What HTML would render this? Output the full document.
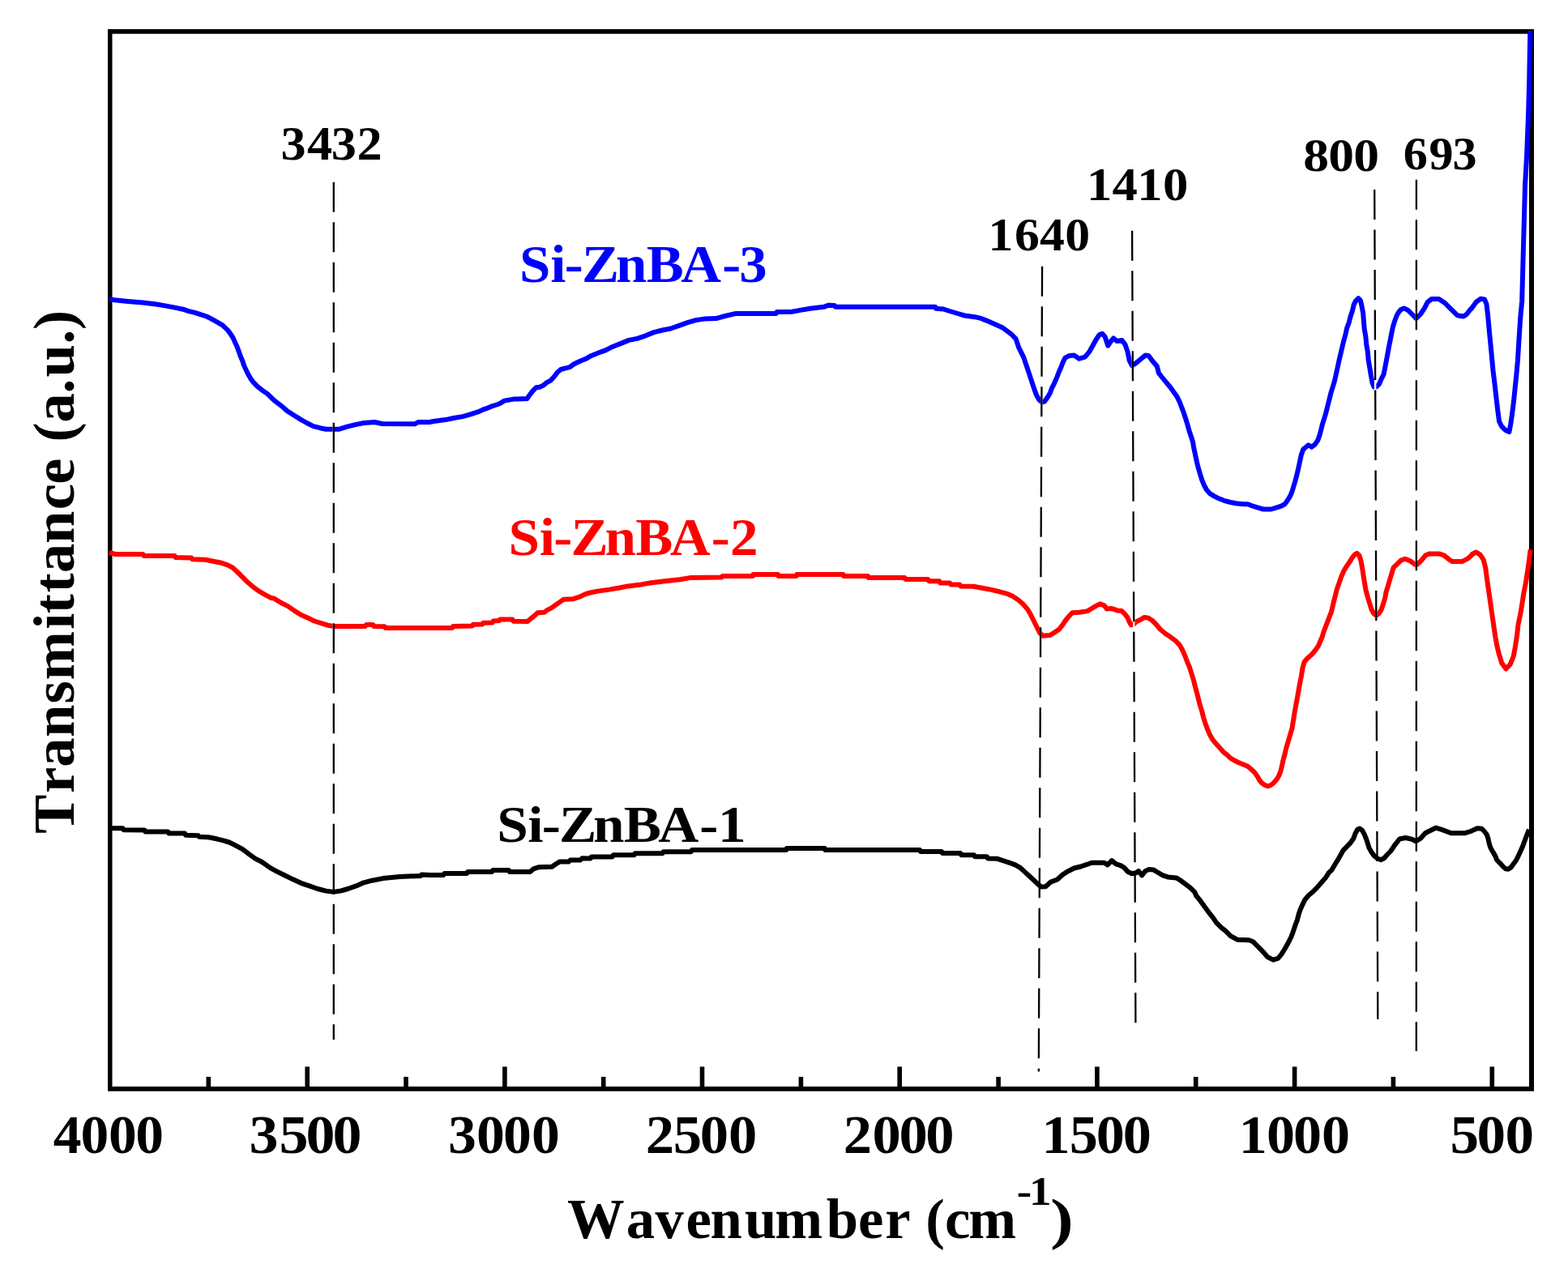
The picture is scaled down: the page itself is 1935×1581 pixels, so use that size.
<!DOCTYPE html>
<html><head><meta charset="utf-8"><title>FTIR spectra</title><style>
html,body{margin:0;padding:0;background:#fff;}
svg{display:block;}
text{font-family:"Liberation Serif","Times New Roman",serif;font-weight:bold;}
</style></head><body>
<svg xmlns="http://www.w3.org/2000/svg" width="1935" height="1581" viewBox="0 0 1935 1581">
<rect width="1935" height="1581" fill="#fff"/>
<path d="M133,36 H1893 V1346.7 H133 Z M138.5,41.7 V1341 H1887 V41.7 Z" fill="#000" fill-rule="evenodd"/>
<rect x="254.5" y="1329" width="5.6" height="13.0" fill="#000"/><rect x="376.4" y="1316.5" width="5.6" height="25.5" fill="#000"/><rect x="498.2" y="1329" width="5.6" height="13.0" fill="#000"/><rect x="620.1" y="1316.5" width="5.6" height="25.5" fill="#000"/><rect x="741.9" y="1329" width="5.6" height="13.0" fill="#000"/><rect x="863.7" y="1316.5" width="5.6" height="25.5" fill="#000"/><rect x="985.6" y="1329" width="5.6" height="13.0" fill="#000"/><rect x="1107.4" y="1316.5" width="5.6" height="25.5" fill="#000"/><rect x="1229.3" y="1329" width="5.6" height="13.0" fill="#000"/><rect x="1351.1" y="1316.5" width="5.6" height="25.5" fill="#000"/><rect x="1472.9" y="1329" width="5.6" height="13.0" fill="#000"/><rect x="1594.8" y="1316.5" width="5.6" height="25.5" fill="#000"/><rect x="1716.6" y="1329" width="5.6" height="13.0" fill="#000"/><rect x="1838.5" y="1316.5" width="5.6" height="25.5" fill="#000"/>
<path d="M135.0,681.9 L142.3,684.0 L176.4,684.0 L177.4,686.0 L215.7,686.0 L216.7,688.1 L236.3,688.6 L237.4,690.2 L252.9,690.7 L263.2,692.7 L273.5,694.8 L280.8,697.4 L287.0,700.5 L293.2,706.2 L299.4,712.4 L305.6,718.6 L312.8,724.8 L320.0,729.9 L327.3,734.1 L334.0,737.7 L338.3,738.6 L346.5,743.8 L354.8,747.9 L363.1,753.6 L371.3,758.8 L379.6,762.4 L387.9,766.5 L396.1,769.1 L404.4,771.7 L411.7,772.9 L450.9,772.9 L452.0,770.9 L460.2,770.9 L461.3,772.9 L474.7,773.2 L475.7,775.0 L531.2,774.9 L558.1,774.9 L559.1,772.9 L582.9,772.4 L583.9,770.8 L595.3,770.5 L596.3,768.7 L607.7,768.4 L608.7,766.4 L616.0,766.1 L617.0,764.6 L632.5,764.6 L633.5,766.7 L651.1,767.0 L654.2,764.1 L658.3,761.0 L663.5,756.3 L671.8,755.8 L674.9,753.2 L680.0,750.6 L685.2,747.0 L690.4,743.4 L695.5,739.8 L706.9,739.3 L715.2,736.7 L721.4,733.6 L727.2,731.7 L737.6,729.6 L752.0,727.6 L764.4,725.5 L774.8,723.4 L791.3,721.4 L803.7,719.3 L820.3,717.2 L838.9,715.2 L851.3,713.1 L890.5,712.6 L891.6,711.0 L921.2,711.0 L929.0,711.0 L929.5,709.0 L960.0,709.0 L960.5,711.0 L982.7,711.0 L983.2,709.0 L1040.6,709.0 L1041.1,711.0 L1071.1,711.0 L1071.6,713.1 L1116.5,713.0 L1117.4,715.1 L1145.3,715.1 L1146.3,717.2 L1159.3,717.2 L1160.2,719.5 L1172.3,719.5 L1173.3,721.4 L1184.4,721.4 L1185.3,723.4 L1201.2,723.7 L1213.3,726.0 L1223.5,727.9 L1232.8,730.2 L1242.1,732.6 L1249.5,735.8 L1256.0,740.0 L1262.6,745.6 L1268.1,752.1 L1271.9,758.6 L1275.6,766.0 L1279.3,773.5 L1283.0,780.9 L1286.7,784.7 L1295.5,784.1 L1300.7,781.0 L1306.9,776.8 L1311.0,771.7 L1315.1,765.5 L1319.3,760.3 L1323.4,756.2 L1331.7,755.7 L1336.8,755.1 L1342.0,754.1 L1347.2,751.0 L1352.4,747.9 L1357.5,745.3 L1362.7,747.4 L1365.8,751.5 L1371.0,751.0 L1375.1,752.0 L1379.2,753.6 L1384.4,754.1 L1388.5,758.2 L1391.6,762.4 L1393.7,767.5 L1395.8,771.2 L1398.9,770.6 L1402.0,767.5 L1408.2,764.4 L1412.3,761.9 L1416.4,762.4 L1421.6,765.5 L1426.8,770.6 L1431.9,776.8 L1438.1,782.0 L1444.3,786.1 L1451.4,791.4 L1455.7,796.1 L1459.5,802.8 L1462.3,809.4 L1465.2,817.0 L1468.0,823.7 L1470.4,831.2 L1472.8,838.8 L1474.7,846.4 L1477.0,855.0 L1478.9,862.6 L1480.8,870.2 L1483.2,877.7 L1485.1,885.3 L1487.5,892.9 L1489.9,899.6 L1492.7,906.2 L1496.5,912.9 L1501.2,918.6 L1510.0,928.3 L1514.0,931.4 L1518.1,935.4 L1523.2,938.5 L1528.2,941.0 L1534.3,943.5 L1539.3,945.5 L1544.4,949.6 L1548.5,953.6 L1552.0,958.7 L1554.5,963.3 L1557.6,966.8 L1560.6,968.8 L1564.1,970.3 L1567.7,969.3 L1571.7,966.3 L1575.3,962.2 L1578.3,957.2 L1580.3,952.1 L1581.9,945.5 L1583.4,938.5 L1585.4,931.4 L1587.4,922.8 L1594.4,899.2 L1596.0,889.4 L1597.7,878.7 L1599.7,868.0 L1601.8,856.5 L1603.8,845.0 L1605.9,834.3 L1607.5,824.4 L1609.6,817.0 L1613.7,812.1 L1618.6,808.0 L1622.8,803.0 L1626.9,797.3 L1629.3,791.5 L1631.8,785.8 L1633.4,780.0 L1643.0,755.0 L1645.3,745.1 L1647.6,736.0 L1649.9,726.9 L1652.9,718.6 L1655.2,711.7 L1658.2,704.9 L1661.3,699.6 L1665.0,694.3 L1668.8,688.2 L1671.9,684.4 L1674.5,682.9 L1677.2,685.2 L1679.5,692.0 L1681.0,700.4 L1682.5,710.2 L1684.0,719.3 L1685.5,728.4 L1687.8,736.8 L1690.1,744.4 L1692.4,752.0 L1695.4,757.3 L1698.4,759.6 L1701.5,757.3 L1704.5,752.7 L1706.8,745.9 L1709.1,738.3 L1710.6,730.7 L1712.9,723.1 L1715.1,715.5 L1717.4,708.0 L1719.7,700.4 L1723.7,696.7 L1728.8,691.6 L1733.9,689.7 L1740.2,692.3 L1746.5,696.7 L1749.0,696.7 L1754.1,691.6 L1759.2,685.3 L1764.2,683.4 L1775.6,683.4 L1781.9,685.3 L1788.2,690.4 L1792.0,692.9 L1804.7,692.9 L1811.0,689.7 L1816.1,685.3 L1816.7,684.0 L1821.7,681.5 L1826.6,684.6 L1830.7,690.9 L1833.3,701.3 L1834.9,713.8 L1837.0,728.4 L1839.1,743.0 L1841.2,757.6 L1843.3,772.2 L1845.3,785.8 L1847.4,797.3 L1850.0,807.7 L1853.2,818.2 L1858.4,825.5 L1863.6,820.2 L1867.8,809.8 L1869.9,798.3 L1872.0,784.8 L1873.5,771.2 L1876.1,758.7 L1878.2,746.2 L1880.3,732.6 L1882.9,719.0 L1885.0,705.5 L1887.1,690.9 L1888.6,678.3" fill="none" stroke="#ff0000" stroke-width="6.0" stroke-linejoin="round" stroke-linecap="butt"/>
<path d="M135.0,368.8 L141.2,370.3 L157.8,371.9 L176.4,373.4 L192.9,375.5 L205.3,377.6 L215.7,379.6 L226.0,381.7 L232.2,383.8 L240.5,385.8 L246.7,387.9 L254.9,390.5 L260.1,393.1 L267.3,397.2 L274.6,401.3 L280.7,407.1 L284.5,412.1 L287.7,417.2 L290.2,422.9 L292.8,428.6 L294.7,433.6 L296.6,439.3 L299.1,445.0 L301.0,450.7 L303.5,456.4 L306.0,461.5 L309.2,467.1 L313.0,472.2 L318.1,477.3 L323.7,481.7 L330.1,486.1 L338.3,494.1 L346.5,500.3 L354.8,507.5 L363.1,512.7 L371.3,517.9 L378.6,522.0 L386.8,526.1 L395.1,528.2 L402.4,529.8 L417.9,529.8 L428.2,526.7 L438.5,524.1 L448.9,522.0 L462.3,521.0 L471.6,523.0 L511.9,523.3 L516.0,521.0 L530.0,521.0 L534.9,520.0 L549.8,518.1 L559.7,516.0 L570.9,514.1 L578.9,511.9 L585.1,509.8 L591.3,507.9 L595.7,505.7 L601.9,503.6 L606.8,501.4 L613.0,499.5 L617.4,497.7 L622.3,494.6 L633.7,492.6 L638.7,492.6 L650.5,491.9 L653.6,487.6 L657.3,482.6 L661.6,478.3 L666.0,477.7 L670.3,475.8 L674.7,472.1 L679.6,469.6 L684.0,464.7 L687.7,459.7 L692.0,456.0 L697.0,454.7 L703.2,453.2 L707.5,449.8 L712.5,447.3 L718.1,444.8 L723.0,442.9 L729.2,439.2 L735.4,436.7 L741.6,434.3 L747.8,432.1 L755.3,428.2 L765.7,424.1 L776.0,419.9 L786.3,417.9 L796.7,414.3 L807.0,410.1 L817.4,407.5 L827.7,405.5 L838.0,401.9 L848.4,398.2 L858.7,395.1 L869.0,393.6 L883.5,393.1 L894.9,390.0 L907.3,387.1 L945.0,387.1 L957.6,387.1 L958.6,385.0 L977.2,384.8 L987.5,382.9 L999.9,380.7 L1016.5,378.8 L1022.7,376.7 L1029.9,377.1 L1031.0,378.8 L1138.1,378.8 L1154.2,378.8 L1154.9,380.8 L1164.3,381.5 L1170.3,383.5 L1177.0,385.5 L1183.7,387.5 L1190.5,389.5 L1203.2,391.2 L1211.3,393.2 L1217.3,395.6 L1224.1,398.6 L1230.8,401.6 L1237.5,404.6 L1242.9,408.7 L1248.2,412.7 L1253.6,418.1 L1257.1,428.7 L1260.2,434.8 L1263.2,440.9 L1265.5,447.7 L1267.8,454.5 L1270.1,461.4 L1272.3,468.2 L1274.6,475.0 L1276.9,481.9 L1279.2,487.9 L1282.2,493.3 L1286.0,496.3 L1289.0,495.5 L1292.8,490.2 L1295.9,484.9 L1298.1,478.8 L1301.2,472.8 L1304.2,465.9 L1306.5,459.8 L1309.5,453.0 L1311.8,446.9 L1314.5,441.6 L1319.3,439.1 L1325.5,438.6 L1331.7,442.7 L1338.9,440.6 L1344.1,434.4 L1348.2,427.2 L1352.4,419.5 L1356.5,413.3 L1360.1,411.7 L1363.7,415.8 L1367.3,426.7 L1371.0,421.0 L1374.1,417.4 L1378.2,421.0 L1384.4,420.0 L1388.5,425.1 L1391.6,434.4 L1393.7,444.8 L1396.8,451.0 L1400.9,448.9 L1407.1,443.7 L1413.3,438.6 L1417.5,439.1 L1421.6,444.8 L1427.8,452.0 L1429.9,460.3 L1433.0,464.4 L1440.0,472.8 L1444.1,477.7 L1448.2,483.4 L1452.3,489.2 L1455.6,495.8 L1458.1,502.4 L1460.6,508.9 L1463.0,516.3 L1465.1,522.9 L1467.1,530.3 L1472.0,545.1 L1473.2,552.6 L1475.1,561.5 L1477.0,570.4 L1478.9,577.9 L1481.1,585.5 L1483.3,592.5 L1485.9,598.8 L1489.0,604.5 L1492.8,608.9 L1497.9,612.1 L1504.2,615.3 L1510.5,617.8 L1518.8,620.0 L1527.0,621.6 L1535.8,622.2 L1540.0,622.2 L1546.3,624.7 L1552.6,626.6 L1559.0,628.5 L1568.5,628.5 L1574.8,626.6 L1581.1,624.7 L1585.5,622.2 L1588.7,617.8 L1591.9,612.7 L1594.4,607.0 L1596.3,600.7 L1598.2,594.4 L1600.1,587.4 L1602.0,579.2 L1603.9,570.4 L1605.8,561.5 L1608.3,554.5 L1614.7,549.2 L1618.8,551.7 L1622.9,548.4 L1626.2,543.5 L1628.6,536.9 L1630.3,530.3 L1631.9,523.7 L1634.0,517.2 L1636.0,510.6 L1637.7,504.0 L1639.3,497.4 L1641.0,490.8 L1642.6,484.3 L1644.7,477.7 L1646.7,471.1 L1648.4,463.7 L1650.4,454.7 L1652.5,444.8 L1658.2,420.8 L1660.7,411.7 L1662.3,404.3 L1664.8,397.8 L1666.4,391.2 L1668.9,383.8 L1670.6,376.4 L1673.0,371.4 L1676.3,368.2 L1678.8,370.6 L1680.4,377.2 L1682.1,386.2 L1682.9,396.1 L1683.7,406.0 L1685.4,415.8 L1686.2,424.9 L1687.8,433.9 L1688.6,443.8 L1690.3,453.7 L1691.9,463.5 L1693.6,472.6 L1695.6,477.5 L1698.5,477.5 L1701.8,474.2 L1704.3,468.5 L1707.6,461.9 L1709.2,453.7 L1710.8,445.4 L1712.5,436.4 L1714.1,427.4 L1715.8,419.1 L1717.4,410.9 L1719.1,402.7 L1721.5,395.3 L1724.0,388.7 L1726.5,384.6 L1728.9,382.1 L1732.6,380.4 L1737.6,382.9 L1742.7,388.0 L1747.8,393.0 L1752.8,388.0 L1757.9,380.4 L1761.7,372.8 L1766.7,369.0 L1775.6,369.0 L1783.2,374.0 L1788.2,379.1 L1793.3,384.2 L1798.4,389.2 L1806.0,390.5 L1809.8,388.0 L1814.8,381.6 L1815.4,381.6 L1821.7,372.8 L1827.3,368.8 L1832.0,369.4 L1834.4,375.2 L1836.1,389.2 L1837.9,409.1 L1840.2,432.5 L1842.5,457.1 L1844.9,477.0 L1846.6,492.2 L1848.4,507.4 L1850.1,520.2 L1853.1,526.1 L1857.7,530.8 L1862.4,533.1 L1864.2,523.7 L1865.9,512.0 L1867.7,498.0 L1869.4,481.6 L1871.2,464.1 L1873.0,444.2 L1874.1,425.5 L1875.3,406.8 L1876.5,389.2 L1878.2,371.7 L1882.0,229.0 L1884.0,194.0 L1886.0,143.0 L1887.2,100.0 L1888.3,38.0" fill="none" stroke="#0000ff" stroke-width="6.0" stroke-linejoin="round" stroke-linecap="butt"/>
<g stroke="#fff" stroke-width="2.4" fill="none"><line x1="411.8" y1="224.8" x2="411.8" y2="1283.2"/><line x1="1286.1" y1="328.7" x2="1281.8" y2="1322.6"/><line x1="1397.1" y1="284.8" x2="1401.4" y2="1262.5"/><line x1="1696.2" y1="233.9" x2="1700.3" y2="1258.1"/><line x1="1747.9" y1="221.8" x2="1747.8" y2="1297.3"/></g>
<g stroke="#000" stroke-width="2.3" stroke-dasharray="37 12.5" fill="none"><line x1="411.8" y1="224.8" x2="411.8" y2="1283.2"/><line x1="1286.1" y1="328.7" x2="1281.8" y2="1322.6"/><line x1="1397.1" y1="284.8" x2="1401.4" y2="1262.5"/><line x1="1696.2" y1="233.9" x2="1700.3" y2="1258.1"/><line x1="1747.9" y1="221.8" x2="1747.8" y2="1297.3"/></g>
<path d="M136.1,1022.2 L151.6,1022.2 L152.6,1024.3 L178.4,1024.5 L179.5,1026.5 L207.4,1026.5 L208.4,1028.6 L228.1,1028.6 L229.1,1030.7 L244.6,1031.2 L245.6,1032.7 L257.0,1033.3 L267.3,1035.3 L275.6,1037.4 L282.8,1039.5 L290.1,1043.1 L299.4,1048.2 L307.6,1054.4 L314.9,1059.6 L323.1,1063.7 L330.4,1068.9 L336.2,1072.7 L340.3,1074.8 L350.7,1080.0 L361.0,1085.1 L371.3,1089.8 L381.7,1093.4 L392.0,1097.0 L402.4,1099.6 L411.7,1100.9 L421.0,1099.4 L429.2,1097.0 L439.6,1093.4 L448.9,1089.3 L459.2,1086.7 L472.6,1084.1 L493.3,1082.0 L519.1,1081.0 L520.2,1079.5 L531.2,1080.1 L547.2,1080.1 L548.3,1078.1 L576.2,1077.9 L577.2,1076.0 L607.2,1076.0 L608.2,1073.9 L627.8,1073.9 L628.9,1076.0 L654.2,1076.0 L658.3,1072.4 L664.5,1070.3 L681.1,1069.8 L686.2,1066.2 L690.4,1063.6 L701.7,1063.6 L703.8,1061.5 L716.2,1061.5 L718.3,1059.3 L726.2,1059.5 L728.8,1059.5 L729.8,1057.4 L755.7,1057.4 L756.7,1055.3 L782.5,1055.3 L783.6,1053.3 L817.7,1053.3 L818.7,1051.2 L852.8,1051.2 L853.9,1049.1 L921.2,1049.1 L970.3,1049.1 L970.8,1047.1 L1017.8,1047.1 L1018.4,1049.1 L1115.6,1049.0 L1135.1,1049.0 L1136.0,1051.0 L1162.1,1051.0 L1163.0,1053.1 L1185.3,1053.1 L1186.3,1055.3 L1202.1,1055.3 L1203.0,1057.3 L1217.9,1057.3 L1218.8,1059.4 L1230.0,1059.7 L1238.4,1062.4 L1245.8,1064.8 L1253.3,1067.6 L1258.8,1070.8 L1264.4,1075.9 L1270.0,1081.0 L1275.6,1086.2 L1281.2,1091.7 L1284.9,1094.5 L1290.3,1094.3 L1296.5,1088.6 L1304.8,1085.5 L1311.0,1079.8 L1317.2,1075.7 L1325.5,1071.5 L1333.7,1069.5 L1342.0,1066.7 L1347.2,1064.8 L1362.7,1064.8 L1366.8,1067.4 L1372.0,1062.2 L1377.2,1066.4 L1383.4,1068.4 L1387.5,1071.0 L1391.6,1075.7 L1396.8,1078.2 L1402.0,1077.2 L1405.1,1075.1 L1409.2,1080.3 L1413.3,1075.1 L1417.5,1073.1 L1423.7,1073.6 L1428.8,1076.7 L1435.0,1080.3 L1441.2,1082.4 L1451.6,1083.4 L1456.7,1086.5 L1462.9,1091.2 L1469.1,1095.8 L1474.3,1101.0 L1476.2,1105.5 L1481.3,1111.7 L1486.5,1118.9 L1491.7,1126.1 L1496.8,1132.4 L1501.0,1138.6 L1507.2,1144.8 L1512.4,1148.9 L1518.6,1155.1 L1526.8,1159.7 L1541.3,1160.3 L1546.5,1162.3 L1551.6,1167.5 L1560.0,1176.1 L1564.3,1181.2 L1571.1,1184.7 L1577.1,1182.9 L1581.3,1177.8 L1585.6,1171.0 L1589.9,1163.3 L1593.3,1156.5 L1595.9,1149.6 L1598.4,1142.0 L1601.0,1135.1 L1602.7,1128.3 L1604.4,1123.2 L1607.4,1116.4 L1610.4,1110.4 L1614.6,1105.3 L1619.8,1101.0 L1624.9,1095.9 L1630.9,1089.0 L1636.0,1083.1 L1639.8,1077.1 L1643.4,1073.8 L1647.4,1066.9 L1651.4,1060.7 L1654.8,1054.4 L1657.7,1049.3 L1661.6,1045.3 L1666.2,1040.7 L1670.2,1035.1 L1672.5,1028.8 L1675.3,1023.7 L1678.1,1022.5 L1681.0,1024.8 L1683.8,1029.9 L1686.1,1035.6 L1687.8,1040.7 L1689.5,1046.4 L1692.4,1051.6 L1695.8,1056.1 L1699.8,1059.5 L1704.3,1061.2 L1708.3,1059.0 L1711.7,1055.0 L1715.7,1051.0 L1718.6,1047.0 L1720.0,1044.7 L1727.1,1035.5 L1734.3,1034.0 L1741.6,1035.5 L1747.3,1038.3 L1753.1,1034.7 L1758.9,1028.2 L1764.7,1025.3 L1771.9,1021.7 L1779.2,1023.9 L1790.7,1028.2 L1808.1,1028.2 L1815.0,1026.0 L1818.2,1024.4 L1823.1,1022.2 L1828.4,1022.7 L1831.7,1026.0 L1834.9,1030.3 L1836.5,1035.1 L1837.6,1040.5 L1839.2,1045.9 L1841.9,1050.7 L1845.1,1056.1 L1847.3,1061.5 L1851.6,1065.8 L1854.8,1069.5 L1858.0,1072.2 L1861.2,1072.7 L1864.5,1070.6 L1867.7,1066.3 L1870.9,1062.0 L1873.6,1056.6 L1876.3,1050.7 L1879.0,1044.8 L1881.1,1038.9 L1883.3,1033.0 L1885.4,1027.6 L1887.0,1023.8" fill="none" stroke="#000000" stroke-width="6.0" stroke-linejoin="round" stroke-linecap="butt"/>
<text transform="translate(0,197.01) scale(1.0586,1)" x="327.40 358.06 386.20 416.18" font-size="58.77">3432</text>
<text transform="translate(0,309.25) scale(1.0815,1)" x="1127.60 1157.67 1186.33 1215.32" font-size="57.12">1640</text>
<text transform="translate(0,246.65) scale(1.1003,1)" x="1218.83 1247.41 1275.41 1304.16" font-size="57.00">1410</text>
<text transform="translate(0,211.22) scale(1.0956,1)" x="1467.98 1496.28 1524.57" font-size="57.91">800</text>
<text transform="translate(0,209.43) scale(1.0390,1)" x="1666.84 1697.41 1725.30" font-size="57.91">693</text>
<text transform="translate(0,347.99) scale(1.0455,1)" x="613.19 649.59 666.38 686.70 726.93 763.06 803.68 852.36 872.66" font-size="65.90" fill="#0000ff">Si-ZnBA-3</text>
<text transform="translate(0,685.00) scale(1.0688,1)" x="587.21 622.85 639.27 659.10 698.47 733.80 773.53 821.19 843.05" font-size="64.72" fill="#ff0000">Si-ZnBA-2</text>
<text transform="translate(0,1038.85) scale(1.0937,1)" x="560.67 595.51 611.55 630.91 669.39 703.91 742.74 789.34 810.17" font-size="63.37">Si-ZnBA-1</text>
<text transform="translate(0,1422.61) scale(1.0400,1)" x="63.31 95.74 128.91 160.79" font-size="66.84">4000</text>
<text transform="translate(0,1422.61) scale(1.0769,1)" x="285.54 319.81 350.52 381.12" font-size="66.84">3500</text>
<text transform="translate(0,1422.61) scale(1.0422,1)" x="530.62 564.22 595.78 629.46" font-size="66.84">3000</text>
<text transform="translate(0,1422.61) scale(1.0569,1)" x="753.75 786.01 817.30 850.71" font-size="66.84">2500</text>
<text transform="translate(0,1422.61) scale(1.0557,1)" x="985.75 1019.68 1050.89 1082.10" font-size="66.84">2000</text>
<text transform="translate(0,1422.61) scale(1.0515,1)" x="1222.66 1255.02 1286.47 1317.81" font-size="66.84">1500</text>
<text transform="translate(0,1422.61) scale(1.0485,1)" x="1458.14 1490.70 1522.08 1555.56" font-size="66.84">1000</text>
<text transform="translate(0,1422.61) scale(1.0653,1)" x="1679.79 1710.88 1743.64" font-size="66.84">500</text>
<text transform="translate(0,1527.77) scale(1.0206,1)" x="685.85 757.05 792.18 829.50 858.91 900.43 936.88 999.11 1037.61 1070.29 1094.53 1119.12 1142.41 1171.24" font-size="69.26">Wavenumber (cm</text>
<text transform="translate(0,1486.82) scale(1.0826,1)" x="1158.93 1173.11" font-size="51.05">-1</text>
<text transform="translate(1295.97,1527.58) scale(1.2350,1)" font-size="70.12">)</text>
<text transform="translate(90.61,1028.44) rotate(-90) scale(1.0214,1)" x="-0.46 48.32 79.98 115.92 156.52 184.92 246.43 265.46 290.72 314.71 350.06 390.90 421.77 446.63 472.78 496.33 531.31 551.16 590.94 608.48" font-size="71.01">Transmittance (a.u.)</text>
</svg>
</body></html>
